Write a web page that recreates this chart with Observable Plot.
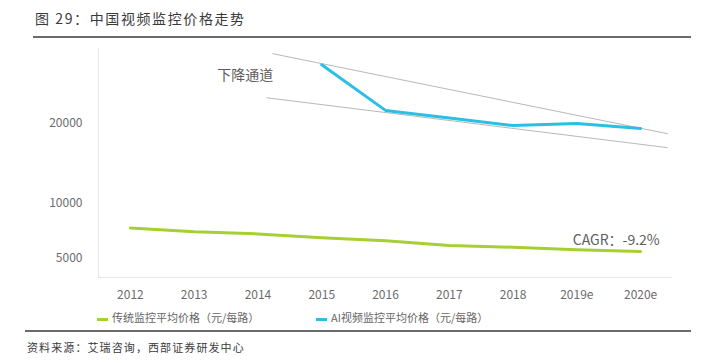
<!DOCTYPE html>
<html><head><meta charset="utf-8">
<script src="https://cdn.jsdelivr.net/npm/d3@7"></script>
<script src="https://cdn.jsdelivr.net/npm/@observablehq/plot@0.6"></script>
<style>
body{margin:0;background:#fff;width:709px;height:363px;position:relative;overflow:hidden;font-family:"Noto Sans CJK SC","Noto Sans",sans-serif;}
#chart{position:absolute;left:0;top:0;}
.abs{position:absolute;white-space:nowrap;}
</style></head>
<body>
<div id="chart"></div>
<div class="abs" id="title" style="left:35px;top:8px;font-size:14px;color:#3a3a3a;letter-spacing:1.6px;">图 29：中国视频监控价格走势</div>
<div class="abs" style="left:33px;top:36px;width:658px;height:2px;background:#6b6b6b;"></div>
<div class="abs" id="legend" style="left:0;top:309px;font-size:11px;color:#666;"></div>
<div class="abs" style="left:25px;top:330px;width:666px;height:2px;background:#6b6b6b;"></div>
<div class="abs" id="source" style="left:27px;top:339px;font-size:11px;color:#3a3a3a;letter-spacing:1.1px;"></div>
<script>
const years = ["2012","2013","2014","2015","2016","2017","2018","2019e","2020e"];
const traditional = [7600,7250,7050,6700,6450,6050,5900,5700,5550];
const aiPrice = [null,null,null,29000,21800,20700,19600,19900,19200];
const yTicks = [5000,10000,20000];
const seriesNames = ["传统监控平均价格（元/每路）","AI视频监控平均价格（元/每路）"];
const seriesColors = ["#a6cf33","#2bbfe6"];
// channel lines (x as year index, y in price)
const channelUpper = [{x:2.23,y:30900},{x:8.42,y:18480}];
const channelLower = [{x:2.14,y:23700},{x:8.42,y:16600}];
const notes = [{x:1.8,y:27200,text:"下降通道"},{x:8.3,y:6460,text:"CAGR：-9.2%"}];
const sourceText = "资料来源：艾瑞咨询，西部证券研发中心";

const tradData = years.map((d,i)=>({x:i,y:traditional[i]}));
const aiData = years.map((d,i)=>({x:i,y:aiPrice[i]})).filter(d=>d.y!=null);

const chart = Plot.plot({
  width:709, height:305,
  marginTop:48, marginBottom:28, marginLeft:98, marginRight:37,
  style:{fontFamily:'"Noto Sans CJK SC","Noto Sans",sans-serif', fontSize:"12px", color:"#6b6b6b", background:"transparent"},
  x:{type:"linear", domain:[-0.5,8.5], ticks:d3.range(years.length), tickFormat:i=>years[i], tickSize:0, tickPadding:13, label:null},
  y:{type:"pow", exponent:0.556, domain:[3635,31800], ticks:yTicks, tickFormat:d=>String(d), tickSize:0, tickPadding:16, label:null},
  marks:[
    Plot.ruleX([-0.5],{stroke:"#e6e6e6"}),
    Plot.ruleY([3635],{stroke:"#e6e6e6"}),
    Plot.line(channelUpper,{x:"x",y:"y",stroke:"#b8b8b8",strokeWidth:1}),
    Plot.line(channelLower,{x:"x",y:"y",stroke:"#b8b8b8",strokeWidth:1}),
    Plot.line(tradData,{x:"x",y:"y",stroke:seriesColors[0],strokeWidth:3}),
    Plot.line(aiData,{x:"x",y:"y",stroke:seriesColors[1],strokeWidth:3}),
    Plot.text([notes[0]],{x:"x",y:"y",text:"text",fontSize:14,fill:"#5e5e5e"}),
    Plot.text([notes[1]],{x:"x",y:"y",text:"text",fontSize:14,fill:"#5e5e5e",textAnchor:"end"})
  ]
});
document.getElementById("chart").appendChild(chart);

const legend = document.getElementById("legend");
const pos = [97,316];
seriesNames.forEach((n,i)=>{
  const item = document.createElement("div");
  item.className="abs";
  item.style.left=pos[i]+"px"; item.style.top="0px";
  item.innerHTML = `<span style="display:inline-block;width:11px;height:3px;background:${seriesColors[i]};vertical-align:middle;margin-right:4px;"></span>${n}`;
  legend.appendChild(item);
});
document.getElementById("source").textContent = sourceText;
</script>
</body></html>
